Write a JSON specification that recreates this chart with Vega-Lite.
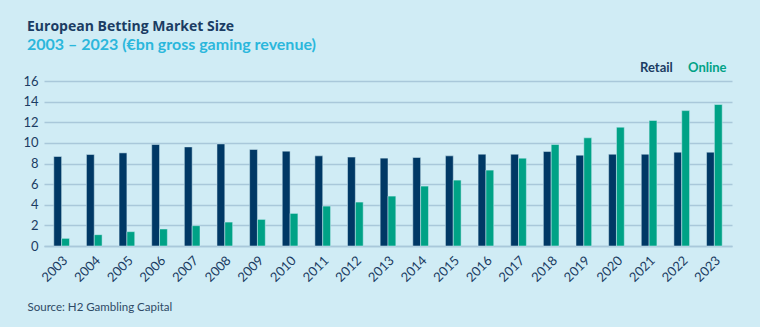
{
  "$schema": "https://vega.github.io/schema/vega-lite/v6.json",
  "autosize": {"type": "none"},
  "padding": {"left": 44, "top": 81, "right": 28, "bottom": 81},
  "width": 688,
  "height": 165,
  "background": "#d0ecf5",
  "title": {
    "text": "European Betting Market Size",
    "subtitle": "2003 – 2023 (€bn gross gaming revenue)",
    "anchor": "start",
    "frame": "group",
    "dx": -17,
    "offset": 8,
    "font": "Open Sans",
    "fontSize": 14,
    "fontWeight": "bold",
    "color": "#1b3c63",
    "subtitleFont": "Lato",
    "subtitleFontSize": 16,
    "subtitleFontWeight": "bold",
    "subtitleColor": "#2bb7dc",
    "subtitlePadding": 3
  },
  "data": {
    "values": [
      {"year": "2003", "type": "Retail", "value": 8.68}, {"year": "2003", "type": "Online", "value": 0.74},
      {"year": "2004", "type": "Retail", "value": 8.87}, {"year": "2004", "type": "Online", "value": 1.1},
      {"year": "2005", "type": "Retail", "value": 9.03}, {"year": "2005", "type": "Online", "value": 1.39},
      {"year": "2006", "type": "Retail", "value": 9.84}, {"year": "2006", "type": "Online", "value": 1.65},
      {"year": "2007", "type": "Retail", "value": 9.61}, {"year": "2007", "type": "Online", "value": 1.97},
      {"year": "2008", "type": "Retail", "value": 9.9}, {"year": "2008", "type": "Online", "value": 2.32},
      {"year": "2009", "type": "Retail", "value": 9.36}, {"year": "2009", "type": "Online", "value": 2.58},
      {"year": "2010", "type": "Retail", "value": 9.2}, {"year": "2010", "type": "Online", "value": 3.16},
      {"year": "2011", "type": "Retail", "value": 8.74}, {"year": "2011", "type": "Online", "value": 3.87},
      {"year": "2012", "type": "Retail", "value": 8.62}, {"year": "2012", "type": "Online", "value": 4.26},
      {"year": "2013", "type": "Retail", "value": 8.52}, {"year": "2013", "type": "Online", "value": 4.84},
      {"year": "2014", "type": "Retail", "value": 8.58}, {"year": "2014", "type": "Online", "value": 5.81},
      {"year": "2015", "type": "Retail", "value": 8.74}, {"year": "2015", "type": "Online", "value": 6.39},
      {"year": "2016", "type": "Retail", "value": 8.9}, {"year": "2016", "type": "Online", "value": 7.36},
      {"year": "2017", "type": "Retail", "value": 8.9}, {"year": "2017", "type": "Online", "value": 8.52},
      {"year": "2018", "type": "Retail", "value": 9.16}, {"year": "2018", "type": "Online", "value": 9.84},
      {"year": "2019", "type": "Retail", "value": 8.81}, {"year": "2019", "type": "Online", "value": 10.49},
      {"year": "2020", "type": "Retail", "value": 8.9}, {"year": "2020", "type": "Online", "value": 11.52},
      {"year": "2021", "type": "Retail", "value": 8.9}, {"year": "2021", "type": "Online", "value": 12.17},
      {"year": "2022", "type": "Retail", "value": 9.1}, {"year": "2022", "type": "Online", "value": 13.13},
      {"year": "2023", "type": "Retail", "value": 9.1}, {"year": "2023", "type": "Online", "value": 13.72}
    ]
  },
  "mark": {"type": "bar", "stroke": "#d0ecf5", "strokeWidth": 0.5},
  "encoding": {
    "x": {
      "field": "year",
      "type": "nominal",
      "scale": {"paddingInner": 0.52, "paddingOuter": 0.3},
      "axis": {
        "title": "Source: H2 Gambling Capital",
        "titleAnchor": "start",
        "titleAlign": "left",
        "titleBaseline": "alphabetic",
        "titleX": -17,
        "titleY": 64,
        "titleFont": "Lato",
        "titleFontSize": 11.5,
        "titleFontWeight": "normal",
        "titleColor": "#2e4a66",
        "labelAngle": -45,
        "labelAlign": "right",
        "labelBaseline": "middle",
        "labelFont": "Lato",
        "labelFontSize": 13,
        "labelColor": "#1b3c63",
        "labelPadding": 12,
        "labelOffset": 4,
        "ticks": false,
        "domainColor": "#a9c8da",
        "domainWidth": 1.5
      }
    },
    "xOffset": {"field": "type", "type": "nominal", "sort": ["Retail", "Online"], "scale": {"paddingInner": 0, "paddingOuter": 0}},
    "y": {
      "field": "value",
      "type": "quantitative",
      "scale": {"domain": [0, 16]},
      "axis": {
        "title": null,
        "values": [0, 2, 4, 6, 8, 10, 12, 14, 16],
        "ticks": false,
        "domain": false,
        "gridColor": "#a9c8da",
        "gridWidth": 1.5,
        "labelFont": "Lato",
        "labelFontSize": 13,
        "labelColor": "#1b3c63",
        "labelPadding": 6
      }
    },
    "color": {
      "field": "type",
      "type": "nominal",
      "sort": ["Retail", "Online"],
      "scale": {"domain": ["Retail", "Online"], "range": ["#003865", "#00a286"]},
      "legend": {
        "title": null,
        "orient": "none",
        "direction": "horizontal",
        "legendX": 583,
        "legendY": -20,
        "symbolSize": 0,
        "symbolStrokeWidth": 0,
        "symbolOpacity": 0,
        "labelOffset": 0,
        "columnPadding": 2,
        "labelFont": "Lato",
        "labelFontSize": 13,
        "labelFontWeight": "bold",
        "labelColor": {"expr": "datum.value === 'Retail' ? '#1b3c63' : '#00a286'"}
      }
    }
  },
  "config": {"view": {"stroke": null}}
}
